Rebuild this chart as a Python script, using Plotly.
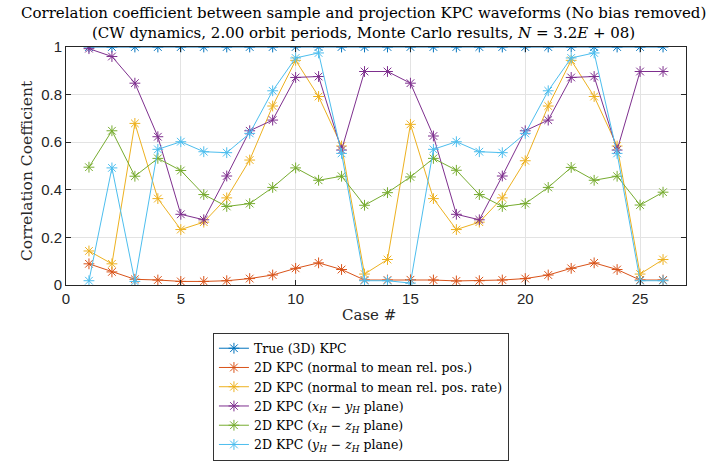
import plotly.graph_objects as go

cases = list(range(1, 27))
true_kpc = [1.0] * 26
normal_pos = [0.089, 0.055, 0.024, 0.021, 0.015, 0.015, 0.018, 0.027, 0.042, 0.070, 0.093, 0.065, 0.021,
              0.021, 0.022, 0.021, 0.017, 0.018, 0.021, 0.027, 0.042, 0.070, 0.093, 0.065, 0.021, 0.021]
normal_rate = [0.143, 0.089, 0.679, 0.363, 0.233, 0.264, 0.366, 0.525, 0.752, 0.944, 0.792, 0.584, 0.046,
               0.107, 0.675, 0.363, 0.233, 0.264, 0.366, 0.522, 0.752, 0.944, 0.792, 0.584, 0.046, 0.107]
xy_plane = [0.993, 0.960, 0.848, 0.623, 0.297, 0.274, 0.458, 0.648, 0.693, 0.872, 0.876, 0.567, 0.897,
            0.897, 0.848, 0.626, 0.297, 0.274, 0.458, 0.648, 0.693, 0.872, 0.876, 0.567, 0.897, 0.897]
xz_plane = [0.495, 0.648, 0.457, 0.532, 0.481, 0.380, 0.330, 0.342, 0.410, 0.492, 0.440, 0.457, 0.335,
            0.388, 0.454, 0.532, 0.482, 0.380, 0.330, 0.342, 0.410, 0.494, 0.440, 0.457, 0.336, 0.390]
yz_plane = [0.018, 0.492, 0.015, 0.570, 0.602, 0.560, 0.556, 0.637, 0.816, 0.954, 0.975, 0.553, 0.018,
            0.018, 0.008, 0.570, 0.602, 0.560, 0.556, 0.637, 0.816, 0.954, 0.975, 0.553, 0.018, 0.018]

names = [
    "True (3D) KPC",
    "2D KPC (normal to mean rel. pos.)",
    "2D KPC (normal to mean rel. pos. rate)",
    "2D KPC (<i>x</i><sub><i>H</i></sub> − <i>y</i><sub><i>H</i></sub> plane)",
    "2D KPC (<i>x</i><sub><i>H</i></sub> − <i>z</i><sub><i>H</i></sub> plane)",
    "2D KPC (<i>y</i><sub><i>H</i></sub> − <i>z</i><sub><i>H</i></sub> plane)",
]
series = [true_kpc, normal_pos, normal_rate, xy_plane, xz_plane, yz_plane]
colors = ["#0072BD", "#D95319", "#EDB120", "#7E2F8E", "#77AC30", "#4DBEEE"]

title1 = "Correlation coefficient between sample and projection KPC waveforms (No bias removed)"
title2 = "(CW dynamics, 2.00 orbit periods, Monte Carlo results, <i>N</i> = 3.2<i>E</i> + 08)"
xlabel = "Case #"
ylabel = "Correlation Coefficient"

fig = go.Figure()
for name, vals, col in zip(names, series, colors):
    fig.add_trace(go.Scatter(
        x=cases, y=vals, name=name, mode="lines+markers",
        line=dict(color=col, width=1),
        marker=dict(symbol="asterisk-open", size=9, color=col, line=dict(color=col, width=1)),
    ))

serif = "DejaVu Serif, serif"
sans = "Liberation Sans, Arial, sans-serif"

fig.update_layout(
    width=720, height=462,
    margin=dict(l=66, r=34, t=47, b=177, autoexpand=False),
    paper_bgcolor="white", plot_bgcolor="white",
    showlegend=True,
    legend=dict(
        x=0.237, xanchor="left", y=-0.20, yanchor="top",
        bgcolor="white", bordercolor="#333333", borderwidth=1,
        font=dict(family=serif, size=12.5, color="#000000"),
        tracegroupgap=0, itemwidth=30,
    ),
    annotations=[
        dict(text=title1, xref="paper", yref="paper", x=0.48, y=1.143, xanchor="center", yanchor="middle",
             showarrow=False, font=dict(family=serif, size=15, color="#000000")),
        dict(text=title2, xref="paper", yref="paper", x=0.48, y=1.059, xanchor="center", yanchor="middle",
             showarrow=False, font=dict(family=serif, size=15, color="#000000")),
        dict(text=xlabel, xref="paper", yref="paper", x=0.489, y=-0.128, xanchor="center", yanchor="middle",
             showarrow=False, font=dict(family=serif, size=15, color="#262626")),
        dict(text=ylabel, xref="paper", yref="paper", x=-0.063, y=0.483, xanchor="center", yanchor="middle",
             textangle=-90, showarrow=False, font=dict(family=serif, size=15.5, color="#262626")),
    ],
)
fig.update_xaxes(
    range=[0, 27], tickvals=[0, 5, 10, 15, 20, 25],
    showgrid=True, gridcolor="#e3e3e3", gridwidth=1,
    showline=True, linecolor="#262626", linewidth=1, mirror="ticks",
    ticks="inside", ticklen=5, tickcolor="#262626",
    tickfont=dict(family=sans, size=15, color="#262626"),
    zeroline=False,
)
fig.update_yaxes(
    range=[0, 1], tickvals=[0, 0.2, 0.4, 0.6, 0.8, 1], ticktext=["0", "0.2", "0.4", "0.6", "0.8", "1"],
    showgrid=True, gridcolor="#e3e3e3", gridwidth=1,
    showline=True, linecolor="#262626", linewidth=1, mirror="ticks",
    ticks="inside", ticklen=5, tickcolor="#262626",
    tickfont=dict(family=sans, size=15, color="#262626"),
    zeroline=False,
)

fig.write_html("out.html")
